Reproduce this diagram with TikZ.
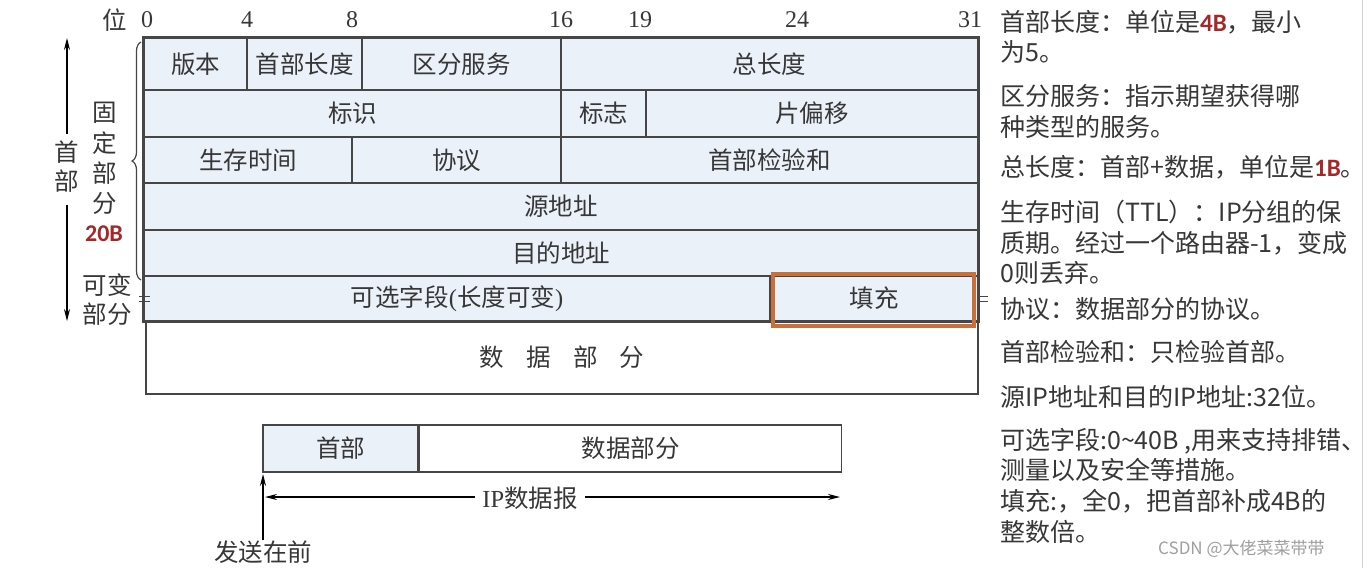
\documentclass[tikz,border=0pt]{standalone}
\usepackage{fontspec}
\setmainfont{Liberation Serif}
\newfontfamily\cjk{Noto Sans CJK SC}
\newfontfamily\latb{Carlito}
\usetikzlibrary{arrows.meta,decorations.pathreplacing}
\definecolor{cellfill}{RGB}{234,241,248}
\definecolor{linec}{RGB}{70,70,70}
\definecolor{txt}{RGB}{55,55,55}
\definecolor{hl}{RGB}{200,112,60}
\definecolor{redb}{RGB}{165,40,40}
\newcommand{\rb}[1]{{\latb\bfseries\color{redb}#1}}
\begin{document}
\begin{tikzpicture}[x=1pt,y=-1pt,
  cell/.style={draw=linec, fill=cellfill, line width=1.2pt, inner sep=0pt, text=txt,
    font=\cjk\fontsize{24.5}{27}\selectfont},
  bit/.style={text=txt, inner sep=0pt, font=\fontsize{24}{26}\selectfont},
  lbl/.style={text=txt, inner sep=0pt, font=\cjk\fontsize{24.5}{27}\selectfont},
  note/.style={anchor=base west, inner sep=0pt, text=txt, font=\cjk\fontsize{25}{30}\selectfont},
  arr/.style={draw=black, line width=1.2pt, -{Stealth[length=12pt,width=6pt]}},
  eqm/.style={draw=linec, line width=1pt}]
\useasboundingbox (0,0) rectangle (1364,568);
\fill[white] (0,0) rectangle (1364,568);
\draw[gray!35, line width=1pt] (1362,0) -- (1362,568);

% header rows
\node[cell, minimum width=103, minimum height=52] (ver) at (195.5,64) {版本};
\node[cell, minimum width=115, minimum height=52] (hlen) at (304.5,64) {首部长度};
\node[cell, minimum width=199, minimum height=52] (ds) at (461.5,64) {区分服务};
\node[cell, minimum width=417, minimum height=52] (tlen) at (769.5,64) {总长度};
\node[cell, minimum width=417, minimum height=47] (ident) at (352.5,113.5) {标识};
\node[cell, minimum width=85, minimum height=47] (flag) at (603.5,113.5) {标志};
\node[cell, minimum width=332, minimum height=47] (frag) at (812,113.5) {片偏移};
\node[cell, minimum width=208, minimum height=46] (ttl) at (248,160) {生存时间};
\node[cell, minimum width=209, minimum height=46] (proto) at (456.5,160) {协议};
\node[cell, minimum width=417, minimum height=46] (csum) at (769.5,160) {首部检验和};
\node[cell, minimum width=834, minimum height=47] (src) at (561,206.5) {源地址};
\node[cell, minimum width=834, minimum height=46] (dst) at (561,253) {目的地址};
\node[cell, minimum width=626, minimum height=45] (opt) at (457,298.5) {可选字段{\rmfamily(}长度可变{\rmfamily)}};
\node[cell, minimum width=208, minimum height=45] (pad) at (874,298.5) {填充};
\node[cell, fill=white, minimum width=832, minimum height=73] (data) at (562,357.5) {数\hspace{0.9em}据\hspace{0.9em}部\hspace{0.9em}分};
\draw[linec, line width=2.5pt] (ver.north west) rectangle (pad.south east);
\node[draw=hl, line width=4pt, minimum width=201, minimum height=52, inner sep=0pt] (padhl) at (873.5,300) {};

% equal marks
\draw[eqm] (139,296) -- (150,296) (139,301) -- (150,301);
\draw[eqm] (978,296) -- (988,296) (978,301) -- (988,301);

% bit labels
\node[lbl] (wei) at (115,20) {位};
\node[bit] (b0) at (147,20) {0};
\node[bit] (b4) at (247,20) {4};
\node[bit] (b8) at (352,20) {8};
\node[bit] (b16) at (561,20) {16};
\node[bit] (b19) at (640,20) {19};
\node[bit] (b24) at (797,20) {24};
\node[bit] (b31) at (970,20) {31};

% left labels
\node[lbl] (s1) at (67,152) {首};
\node[lbl] (s2) at (67,181) {部};
\coordinate (upend) at (67,38);
\coordinate (upstart) at (67,134);
\coordinate (dnstart) at (67,205);
\coordinate (dnend) at (67,321);
\draw[arr] (upstart) -- (upend);
\draw[arr] (dnstart) -- (dnend);
\node[lbl] (g1) at (105,113) {固};
\node[lbl] (g2) at (105,143) {定};
\node[lbl] (g3) at (105,173) {部};
\node[lbl] (g4) at (105,203) {分};
\node[inner sep=0pt] (g5) at (104,234) {\fontsize{24}{26}\selectfont\rb{20B}};
\node[lbl] (k1) at (107,285) {可变};
\node[lbl] (k2) at (107,314) {部分};
\coordinate (brB) at (141,280);
\coordinate (brT) at (141,42);
\draw[linec, line width=1.2pt, decorate, decoration={brace, amplitude=9pt}] (brB) -- (brT);

% bottom datagram
\node[cell, line width=2.5pt, minimum width=155, minimum height=47] (hdr) at (340.5,448.5) {首部};
\node[cell, fill=white, minimum width=422, minimum height=47, anchor=west] (body) at (hdr.east) {数据部分};
\node[lbl, fill=white, inner sep=7pt] (ip) at (530,498) {{\rmfamily IP}数据报};
\coordinate (ipL) at (265,497);
\coordinate (ipR) at (840,497);
\draw[arr] (ip.west |- ipL) -- (ipL);
\draw[arr] (ip.east |- ipR) -- (ipR);
\node[lbl] (send) at (263,552) {发送在前};
\coordinate (sendtop) at (263,474);
\draw[arr] (send.north) -- (sendtop);

% notes
\node[note] (n1) at (1000,31) {首部长度：单位是\rb{4B}，最小};
\node[note] (n2) at (1000,61) {为5。};
\node[note] (n3) at (1000,105) {区分服务：指示期望获得哪};
\node[note] (n4) at (1000,136) {种类型的服务。};
\node[note] (n5) at (1000,176) {总长度：首部+数据，单位是\rb{1B}。};
\node[note] (n6) at (1000,221) {生存时间（TTL）：IP分组的保};
\node[note] (n7) at (1000,252) {质期。经过一个路由器-1，变成};
\node[note] (n8) at (1000,282) {0则丢弃。};
\node[note] (n9) at (1000,318) {协议：数据部分的协议。};
\node[note] (n10) at (1000,361) {首部检验和：只检验首部。};
\node[note] (n11) at (1000,406) {源IP地址和目的IP地址:32位。};
\node[note] (n12) at (1000,449) {可选字段:0\textasciitilde 40B ,用来支持排错、};
\node[note] (n13) at (1000,479) {测量以及安全等措施。};
\node[note] (n14) at (1000,510) {填充:，全0，把首部补成4B的};
\node[note] (n15) at (1000,541) {整数倍。};
\node[anchor=base west, inner sep=0pt, text=gray!75, font=\cjk\fontsize{17}{20}\selectfont] (wm) at (1158,554) {CSDN @大佬菜菜带带};
\end{tikzpicture}
\end{document}
